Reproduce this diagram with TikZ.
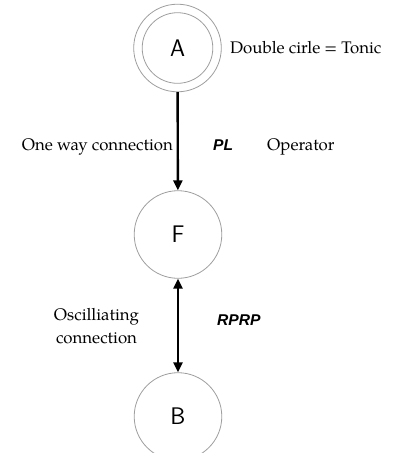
\documentclass[tikz,border=0pt]{standalone}
\usepackage{fontspec}
\setmainfont{TeX Gyre Pagella}
\newfontfamily\hsans{Liberation Sans}
\usetikzlibrary{arrows.meta}
\tikzset{
  state/.style={circle, draw=black!38, line width=0.8pt, minimum size=87.6pt, inner sep=0pt,
    font=\fontsize{24}{28}\selectfont\sffamily},
  ring/.style={draw=black!38, line width=0.8pt},
  conn/.style={line width=2.4pt, black},
  tip/.tip={Triangle[length=10pt,width=9pt]},
  lbl/.style={inner sep=0pt, font=\fontsize{16.8}{22.6}\selectfont},
  op/.style={inner sep=0pt, font=\fontsize{15.6}{18}\selectfont\hsans\bfseries\itshape},
}
\begin{document}
\begin{tikzpicture}[x=1pt,y=-1pt]
\useasboundingbox (0,0) rectangle (392,453);
\node[state] (A) at (177.5,48) {A};
\draw[ring] (A.center) circle[radius=35.3pt];
\node[state] (F) at (178,234.5) {F};
\node[state] (B) at (178,416.5) {B};
\draw[conn,-tip] (A) -- (F);
\draw[conn,tip-tip] (F) -- (B);
\node[lbl, anchor=base west] (t1) at (230,53) {Double cirle = Tonic};
\node[lbl, anchor=base east] (t2) at (173,150) {One way connection};
\node[op, anchor=base west] (pl) at (213,150) {PL};
\node[lbl, anchor=base west] (t3) at (267,150) {Operator};
\node[lbl, align=center, anchor=north] (t4) at (96.5,308.5) {Oscilliating\\connection};
\node[op, anchor=base west] (rp) at (217,325) {RPRP};
\end{tikzpicture}
\end{document}
